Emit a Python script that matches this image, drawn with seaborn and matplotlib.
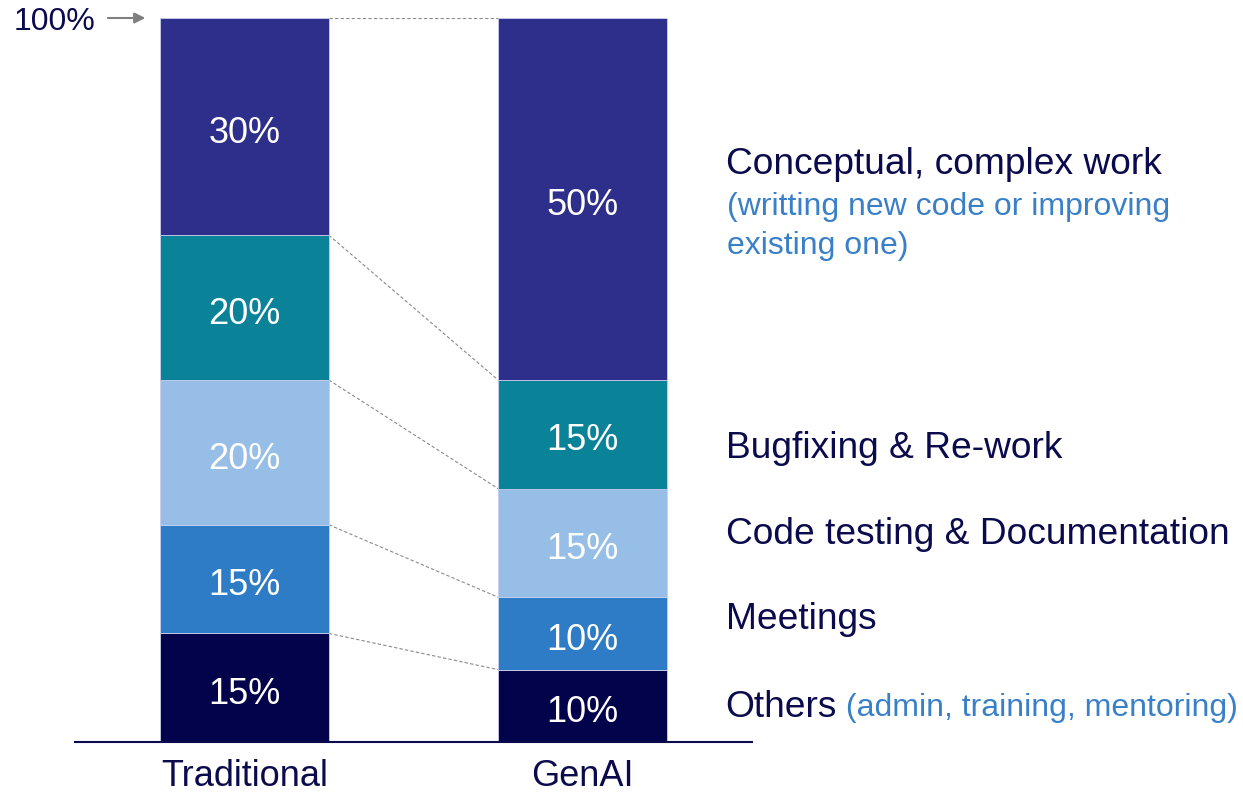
import matplotlib
matplotlib.use("Agg")
import matplotlib.pyplot as plt
import seaborn as sns
import pandas as pd
import numpy as np

scenarios = ["Traditional", "GenAI"]
categories = ["Others", "Meetings", "Code testing & Documentation",
              "Bugfixing & Re-work", "Conceptual, complex work"]
traditional = [15, 15, 20, 20, 30]
genai = [10, 10, 15, 15, 50]
colors = ["#03034B", "#2F7CC6", "#96BEE6", "#0A8399", "#2E2F8A"]

label_main = ["Others", "Meetings", "Code testing & Documentation",
              "Bugfixing & Re-work", "Conceptual, complex work"]
label_sub = ["(admin, training, mentoring)", "", "", "",
             "(writting new code or improving", "existing one)"]

sns.set_theme(style="white")
plt.rcParams['font.family'] = ['Liberation Sans', 'DejaVu Sans']

navy = "#0A0A4D"
sub_blue = "#3A80C9"

fig = plt.figure(figsize=(12.43, 7.94), dpi=100)
ax = fig.add_axes([75/1243, 52/794, 677/1243, 724/794])

df = pd.DataFrame({
    "scenario": np.repeat(scenarios, len(categories)),
    "category": categories * 2,
    "value": traditional + genai,
})

bottoms = np.zeros(2)
for i, cat in enumerate(categories):
    sub = df[df["category"] == cat].set_index("scenario").loc[scenarios].reset_index()
    sns.barplot(data=sub, x="scenario", y="value", order=scenarios, color=colors[i],
                width=0.5, bottom=bottoms.copy(), ax=ax, saturation=1,
                edgecolor="#c9cfee", linewidth=0.6, errorbar=None)
    cont = ax.containers[-1]
    anns = ax.bar_label(cont, labels=[f"{v}%" for v in sub["value"]], label_type="center",
                        color="white", fontsize=26)
    for a in anns:
        a.xyann = (0, -4.8)
    bottoms = bottoms + sub["value"].values

# connecting dashed lines between cumulative boundaries
cum_t = np.cumsum(traditional)
cum_g = np.cumsum(genai)
for yt, yg in zip(cum_t, cum_g):
    ax.plot([0.25, 0.75], [yt, yg], ls=(0, (3, 2)), color="#8a8a8a", lw=0.8, zorder=0)

ax.set_xlim(-0.5, 1.5)
ax.set_ylim(0, 100)
ax.set_yticks([])
ax.set_xlabel("")
ax.set_ylabel("")
for s in ["top", "right", "left"]:
    ax.spines[s].set_visible(False)
ax.spines["bottom"].set_color(navy)
ax.spines["bottom"].set_linewidth(1.5)
ax.tick_params(axis="x", length=0, pad=12.5, labelsize=26, labelcolor=navy)

# 100% marker
ax.text(-0.441, 99.5, "100%", ha="right", va="center", fontsize=23, color=navy, clip_on=False)
ax.annotate("", xy=(-0.284, 100), xytext=(-0.411, 100),
            arrowprops=dict(arrowstyle="-|>", color="#7f7f7f", lw=1.5, mutation_scale=16),
            annotation_clip=False)

# right-side labels
label_y = [4.7, 16.9, 28.7, 40.6, 79.7]
xl = 1.422
for i in range(len(categories)):
    t = ax.text(xl, label_y[i], label_main[i], ha="left", va="center",
                fontsize=26.7, color=navy, clip_on=False)
    if i == 0:
        ax.annotate(" " + label_sub[0], xycoords=t, xy=(1, 0.5), va="center", ha="left",
                    fontsize=23, color=sub_blue, annotation_clip=False)
ax.text(xl + 0.004, 73.9, label_sub[4], ha="left", va="center", fontsize=23, color=sub_blue, clip_on=False)
ax.text(xl + 0.004, 68.5, label_sub[5], ha="left", va="center", fontsize=23, color=sub_blue, clip_on=False)

fig.savefig("out.png", dpi=100)
